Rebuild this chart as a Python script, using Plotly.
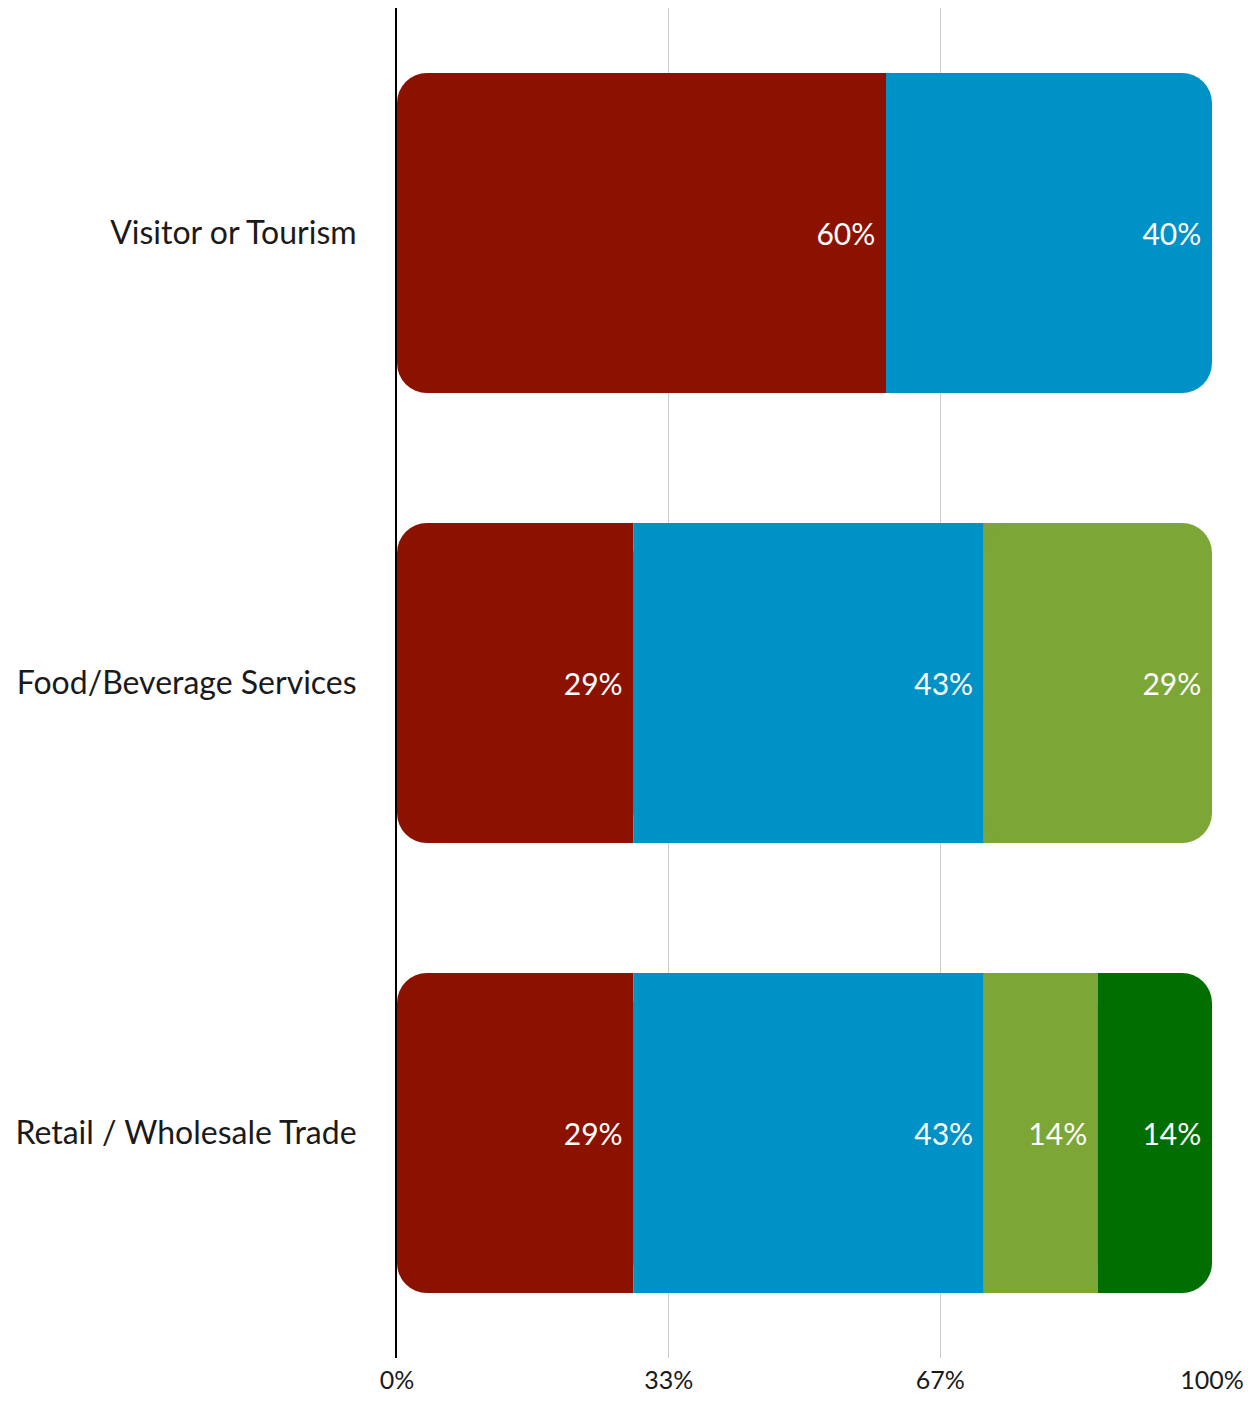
import plotly.graph_objects as go

# ---- data ----
categories = ["Visitor or Tourism", "Food/Beverage Services", "Retail / Wholesale Trade"]
series_1 = [60, 29, 29]
series_2 = [40, 43, 43]
series_3 = [None, 29, 14]
series_4 = [None, None, 14]
series_values = [series_1, series_2, series_3, series_4]
series_names = ["Segment 1", "Segment 2", "Segment 3", "Segment 4"]
series_colors = ["#8c1200", "#0092c7", "#7ca636", "#006e00"]
tick_vals = [0, 100 / 3, 200 / 3, 100]
tick_text = ["0%", "33%", "67%", "100%"]

FONT = "Lato, 'Open Sans', sans-serif"
RADIUS = 30
AXIS_MAX = 100

# segments per category: (category, series index, start, end, value, is_first, is_last)
segments = []
for j, cat in enumerate(categories):
    present = [i for i in range(len(series_values)) if series_values[i][j] is not None]
    cum = 0
    for k, i in enumerate(present):
        v = series_values[i][j]
        start, end = cum, min(cum + v, AXIS_MAX)
        segments.append((cat, i, start, end, v, k == 0, k == len(present) - 1))
        cum += v

fig = go.Figure()


def add_bar(cat, i, base, length, radius, text=None, transparent=False):
    fig.add_trace(go.Bar(
        y=[cat], x=[length], base=[base], orientation="h",
        name=series_names[i], legendgroup=series_names[i], showlegend=False,
        marker=dict(color="rgba(0,0,0,0)" if transparent else series_colors[i],
                    cornerradius=radius, line=dict(width=0)),
        text=[text] if text is not None else None,
        texttemplate="%{text}%\u00a0" if text is not None else None,
        textposition="inside" if text is not None else "none",
        insidetextanchor="end", textangle=0,
        textfont=dict(color="white", size=30, family=FONT),
        hoverinfo="skip",
    ))


# layer 1: square fills (inner halves of the end segments, full middle segments)
for cat, i, s, e, v, first, last in segments:
    if first and not last:
        mid = (s + e) / 2
        add_bar(cat, i, mid, e - mid, 0)
    elif last and not first:
        mid = (s + e) / 2
        add_bar(cat, i, s, mid - s, 0)
    elif not first and not last:
        add_bar(cat, i, s, e - s, 0)

# layer 2: rounded end segments
for cat, i, s, e, v, first, last in segments:
    if first or last:
        add_bar(cat, i, s, e - s, RADIUS)

# layer 3: value labels
for cat, i, s, e, v, first, last in segments:
    add_bar(cat, i, s, e - s, 0, text=v, transparent=True)

fig.update_layout(
    width=1237, height=1386,
    barmode="overlay", bargap=130 / 450,
    plot_bgcolor="white", paper_bgcolor="white",
    margin=dict(l=389, r=33, t=0, b=36, autoexpand=False),
    font=dict(family=FONT, color="#1a1a1a"),
)
fig.update_xaxes(
    range=[0, AXIS_MAX], tickvals=tick_vals, ticktext=tick_text,
    showgrid=True, gridcolor="#cccccc", gridwidth=1,
    zeroline=False, showline=False, ticks="",
    tickfont=dict(size=25, family=FONT, color="#1a1a1a"),
    ticklabelstandoff=5, fixedrange=True, automargin=False,
)
fig.update_yaxes(
    categoryorder="array", categoryarray=categories, autorange="reversed",
    showgrid=False, zeroline=False, showline=True, linecolor="black", linewidth=2,
    ticks="", tickfont=dict(size=32, family=FONT, color="#1a1a1a"),
    ticklabelstandoff=32, fixedrange=True, automargin=False,
)

fig.write_html("out.html")
